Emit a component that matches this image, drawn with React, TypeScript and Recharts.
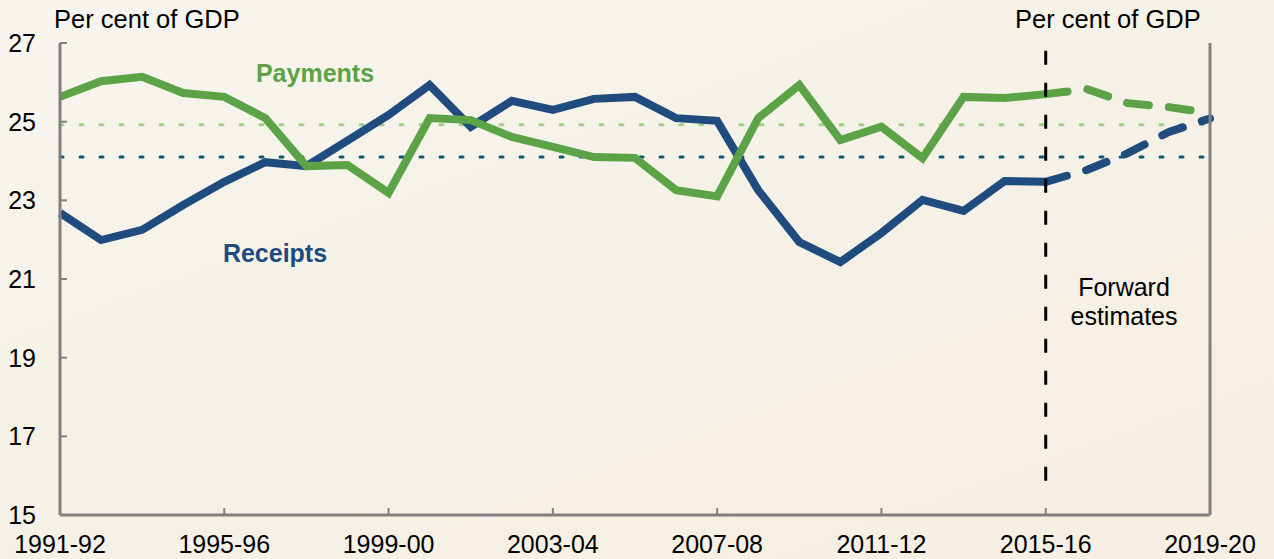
import { CartesianGrid, Line, LineChart, ReferenceLine, XAxis, YAxis } from "recharts";

const years = [
  "1991-92", "1992-93", "1993-94", "1994-95", "1995-96", "1996-97", "1997-98",
  "1998-99", "1999-00", "2000-01", "2001-02", "2002-03", "2003-04", "2004-05",
  "2005-06", "2006-07", "2007-08", "2008-09", "2009-10", "2010-11", "2011-12",
  "2012-13", "2013-14", "2014-15", "2015-16", "2016-17", "2017-18", "2018-19",
  "2019-20",
];

// outcomes to 2015-16
const payments = [
  25.63, 26.03, 26.14, 25.73, 25.63, 25.09, 23.87, 23.9, 23.19, 25.09, 25.04,
  24.61, 24.36, 24.1, 24.08, 23.26, 23.1, 25.09, 25.93, 24.53, 24.87, 24.07,
  25.63, 25.6, 25.7,
];
const receipts = [
  22.68, 21.99, 22.25, 22.88, 23.47, 23.97, 23.87, 24.52, 25.17, 25.93, 24.87,
  25.53, 25.3, 25.58, 25.63, 25.09, 25.02, 23.26, 21.94, 21.43, 22.17, 23.01,
  22.73, 23.49, 23.47,
];

// forward estimates, 2015-16 to 2019-20
const paymentsFwd = [25.7, 25.83, 25.47, 25.37, 25.22];
const receiptsFwd = [23.47, 23.77, 24.2, 24.74, 25.08];

// averages
const paymentsAvg = 24.92;
const receiptsAvg = 24.1;

const yTicks = [15, 17, 19, 21, 23, 25, 27];

const fwdStart = years.length - paymentsFwd.length;

const data = years.map((year, i) => ({
  year,
  payments: i < payments.length ? payments[i] : null,
  receipts: i < receipts.length ? receipts[i] : null,
  paymentsFwd: i >= fwdStart ? paymentsFwd[i - fwdStart] : null,
  receiptsFwd: i >= fwdStart ? receiptsFwd[i - fwdStart] : null,
}));

const GREEN = "#5ba346";
const BLUE = "#1f4b7f";
const AXIS = "#808080";
const FONT = "'Liberation Sans', Arial, sans-serif";

const tickStyle = { fill: "#000", fontSize: 25, fontFamily: FONT };

const App = () => {
  return (
    <div
      style={{
        position: "absolute",
        left: 0,
        top: 0,
        width: 1274,
        height: 559,
        background: "linear-gradient(160deg, #f7f5ee 0%, #f5f1e6 50%, #f6eee3 100%)",
        fontFamily: FONT,
        overflow: "hidden",
      }}
    >
      <LineChart
        width={1274}
        height={559}
        data={data}
        margin={{ top: 43, right: 0, bottom: 0, left: 0 }}
      >
        <CartesianGrid stroke="none" />
        <XAxis
          dataKey="year"
          interval={3}
          height={44}
          axisLine={{ stroke: AXIS, strokeWidth: 3 }}
          tickLine={{ stroke: AXIS, strokeWidth: 2 }}
          tickSize={-7}
          tickMargin={27}
          tick={tickStyle}
        />
        <YAxis
          yAxisId="left"
          domain={[15, 27]}
          ticks={yTicks}
          width={60}
          axisLine={{ stroke: AXIS, strokeWidth: 3 }}
          tickLine={{ stroke: AXIS, strokeWidth: 2 }}
          tickSize={-7}
          tickMargin={31}
          tick={tickStyle}
        />
        <YAxis
          yAxisId="right"
          orientation="right"
          domain={[15, 27]}
          ticks={yTicks}
          width={64}
          axisLine={{ stroke: AXIS, strokeWidth: 3 }}
          tickLine={{ stroke: AXIS, strokeWidth: 2 }}
          tickSize={-7}
          tickMargin={30}
          tick={{ ...tickStyle, textAnchor: "start" }}
        />
        <ReferenceLine
          yAxisId="left"
          y={paymentsAvg}
          stroke="#a3cd88"
          strokeWidth={3}
          strokeDasharray="3 17"
          strokeLinecap="round"
        />
        <ReferenceLine
          yAxisId="left"
          y={receiptsAvg}
          stroke="#0f5675"
          strokeWidth={3}
          strokeDasharray="3 17"
          strokeLinecap="round"
        />
        <Line
          yAxisId="left"
          dataKey="receipts"
          stroke={BLUE}
          strokeWidth={8}
          dot={false}
          activeDot={false}
          isAnimationActive={false}
        />
        <Line
          yAxisId="left"
          dataKey="payments"
          stroke={GREEN}
          strokeWidth={8}
          dot={false}
          activeDot={false}
          isAnimationActive={false}
        />
        <Line
          yAxisId="left"
          dataKey="receiptsFwd"
          stroke={BLUE}
          strokeWidth={8}
          strokeDasharray="22 20"
          strokeLinecap="round"
          dot={false}
          activeDot={false}
          isAnimationActive={false}
        />
        <Line
          yAxisId="left"
          dataKey="paymentsFwd"
          stroke={GREEN}
          strokeWidth={8}
          strokeDasharray="22 20"
          strokeLinecap="round"
          dot={false}
          activeDot={false}
          isAnimationActive={false}
        />
        <ReferenceLine
          yAxisId="left"
          segment={[
            { x: "2015-16", y: 26.8 },
            { x: "2015-16", y: 15.6 },
          ]}
          stroke="#000"
          strokeWidth={3}
          strokeDasharray="14 18"
        />
      </LineChart>

      <div style={{ position: "absolute", left: 54, top: 7, fontSize: 25.5, lineHeight: "25.5px", whiteSpace: "nowrap" }}>
        Per cent of GDP
      </div>
      <div style={{ position: "absolute", left: 1015, top: 7, fontSize: 25.5, lineHeight: "25.5px", whiteSpace: "nowrap" }}>
        Per cent of GDP
      </div>
      <div
        style={{
          position: "absolute",
          left: 215,
          width: 200,
          top: 61,
          textAlign: "center",
          fontSize: 25,
          lineHeight: "25px",
          fontWeight: "bold",
          color: GREEN,
        }}
      >
        Payments
      </div>
      <div
        style={{
          position: "absolute",
          left: 175,
          width: 200,
          top: 241,
          textAlign: "center",
          fontSize: 25,
          lineHeight: "25px",
          fontWeight: "bold",
          color: BLUE,
        }}
      >
        Receipts
      </div>
      <div
        style={{
          position: "absolute",
          left: 1044,
          width: 160,
          top: 273,
          textAlign: "center",
          fontSize: 25,
          lineHeight: "29px",
        }}
      >
        Forward
        <br />
        estimates
      </div>
    </div>
  );
};

export default App;
